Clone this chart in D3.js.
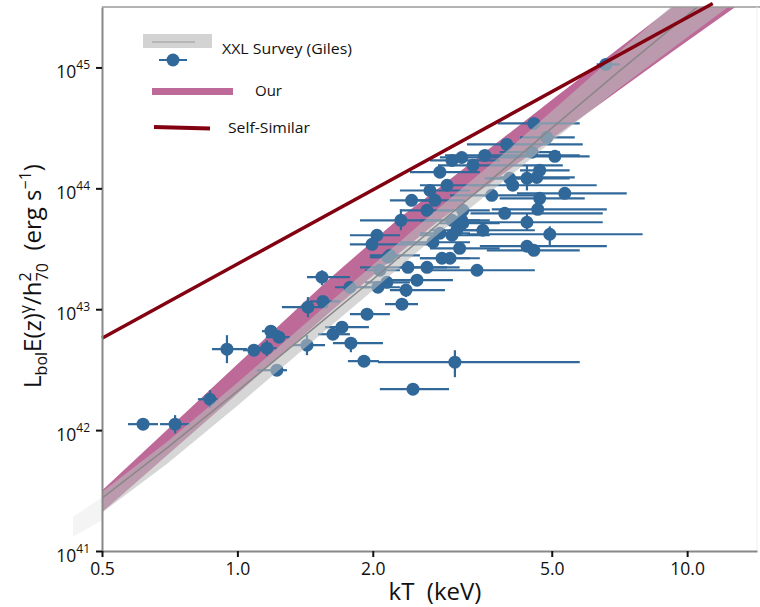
<!DOCTYPE html>
<html>
<head>
<meta charset="utf-8"/>
<script src="https://d3js.org/d3.v7.min.js"></script>
<style>
body { margin: 0; background: #fff; font-family: "Open Sans", "Liberation Sans", sans-serif; }
</style>
</head>
<body>
<div id="v"></div>
<script>
// clusters: temperature (keV) with error range, luminosity (erg/s), optional vertical error
var kT    = [0.617, 0.727, 0.869, 0.948, 1.088, 1.163, 1.187, 1.237, 1.224, 1.428, 1.435, 1.55, 1.708, 1.631, 1.788, 1.912, 1.942, 2.322, 2.371, 3.045, 2.457,
             1.542, 1.779, 2.053, 2.15, 2.043, 1.992, 2.31, 2.183, 2.395, 2.64, 2.508, 2.85, 2.97, 3.12, 3.41, 2.722, 3.0, 3.075, 3.171, 2.75, 2.64,
             4.562, 3.97, 3.55, 5.08, 3.341, 4.7, 4.404, 4.631, 4.096, 5.345, 4.7, 3.678, 4.654, 3.93, 4.404, 3.514, 4.95, 4.404, 4.562, 6.594, 3.154,
             4.875, 4.516, 4.03, 3.171, 3.0, 2.82, 2.161, 2.074, 3.0, 3.154, 2.82, 2.925, 2.68, 2.44];
var kTlo  = [0.571, 0.673, 0.817, 0.878, 1.029, 1.083, 1.134, 1.157, 1.105, 1.329, 1.256, 1.45, 1.566, 1.511, 1.631, 1.761, 1.779, 2.129, 2.183, 2.053, 2.074,
             1.428, 1.648, 1.873, 1.922, 1.779, 1.779, 1.873, 1.971, 1.873, 2.298, 2.15, 2.546, 2.546, 2.68, 2.68, 2.298, 2.546, 2.68, 2.82, 2.419, 2.298,
             3.792, 3.239, 2.895, 4.184, 2.792, 4.25, 3.64, 3.83, 3.29, 4.184, 3.83, 2.97, 3.678, 3.3, 3.075, 3.075, 3.239, 3.46, 3.586, 6.294, 2.82,
             4.25, 3.83, 3.55, 2.82, 2.546, 2.546, 1.971, 1.922, 2.68, 2.82, 2.419, 2.546, 2.298, 2.183];
var kThi  = [0.666, 0.784, 0.906, 1.05, 1.134, 1.224, 1.243, 1.309, 1.289, 1.566, 1.59, 1.69, 1.961, 1.779, 2.107, 2.064, 2.183, 2.521, 2.895, 5.77, 2.955,
             1.779, 1.971, 2.298, 2.419, 2.298, 2.68, 2.82, 2.546, 2.925, 3.12, 3.015, 3.29, 3.46, 3.83, 4.585, 3.29, 3.64, 3.64, 3.83, 3.205, 2.97,
             5.77, 5.86, 5.77, 6.07, 5.29, 5.48, 5.48, 5.625, 6.294, 7.339, 5.92, 4.585, 6.628, 6.492, 6.492, 4.585, 7.963, 6.628, 5.77, 7.08, 3.64,
             5.625, 5.21, 4.585, 3.64, 3.46, 3.29, 2.298, 2.298, 3.83, 4.25, 3.46, 3.64, 3.29, 2.82];
var lum   = [1.12e42, 1.12e42, 1.8e42, 4.67e42, 4.58e42, 4.76e42, 6.58e42, 5.87e42, 3.13e42, 5.04e42, 1.04e43, 1.16e43, 7.1e42, 6.21e42, 5.24e42, 3.72e42, 9.1e42, 1.1e43, 1.44e43, 3.65e42, 2.18e42,
             1.84e43, 1.52e43, 1.52e43, 1.67e43, 4.09e43, 3.44e43, 5.44e43, 2.79e43, 2.22e43, 2.22e43, 1.74e43, 2.64e43, 2.64e43, 3.19e43, 2.1e43, 3.58e43, 4.09e43, 4.5e43, 5.14e43, 7.96e43, 6.58e43,
             3.44e44, 2.31e44, 1.87e44, 1.84e44, 1.55e44, 1.41e44, 1.21e44, 1.23e44, 1.06e44, 9.1e43, 8.27e43, 8.75e43, 6.7e43, 6.21e43, 5.24e43, 4.5e43, 4.17e43, 3.32e43, 3.07e43, 1.06e45, 5.44e43,
             2.64e44, 1.99e44, 1.21e44, 6.58e43, 5.44e43, 4.25e43, 2.69e43, 2.1e43, 1.7e44, 1.8e44, 1.36e44, 1.06e44, 9.6e43, 7.96e43];
var lumLo = [null, 9.4e41, 1.52e42, 3.58e42, null, 4.09e42, null, null, null, 4.17e42, 8.59e42, null, null, null, 4.41e42, null, null, null, 1.26e43, 2.74e42, null,
             1.58e43, null, null, null, null, null, 4.5e43, null, null, null, null, null, null, null, null, null, null, null, null, null, null,
             null, null, null, null, null, null, 9.6e43, null, null, null, null, null, null, null, 4.5e43, null, 3.38e43, null, null, null, null,
             null, null, null, null, null, null, null, null, null, null, null, null, null, null];
var lumHi = [null, 1.33e42, 2.14e42, 6.1e42, null, 5.54e42, null, null, null, 6.1e42, 1.26e43, null, null, null, 5.87e42, null, null, null, 1.61e43, 4.58e42, null,
             2.1e43, null, null, null, null, null, 6.7e43, null, null, null, null, null, null, null, null, null, null, null, null, null, null,
             null, null, null, null, null, null, 1.55e44, null, null, null, null, null, null, null, 6.21e43, null, 4.85e43, null, null, null, null,
             null, null, null, null, null, null, null, null, null, null, null, null, null, null];

// XXL (Giles) relation and its band
var gilesT   = [0.5, 0.7, 1.0, 1.5, 2.0, 2.8, 4.0, 5.0, 7.0, 10.5, 13.0];
var gilesMid = [2.74e41, 7.19e41, 2.10e42, 7.29e42, 1.76e43, 5.07e43, 1.55e44, 3.15e44, 9.06e44, 3.14e45, 6.05e45];
var gilesLo  = [2.08e41, 5.33e41, 1.59e42, 5.79e42, 1.43e43, 4.22e43, 1.23e44, 2.44e44, 6.56e44, 2.03e45, 3.65e45];
var gilesHi  = [3.08e41, 8.07e41, 2.47e42, 9.18e42, 2.32e43, 6.84e43, 2.09e44, 4.35e44, 1.31e45, 4.86e45, 1.0e46];

// faint sliver just left of the y axis
var faintT  = [0.431, 0.5];
var faintLo = [1.31e41, 1.80e41];
var faintHi = [1.91e41, 2.79e41];

// our relation band
var ourT  = [0.5, 1.0, 1.6, 2.3, 2.8, 5.0, 9.2, 12.8];
var ourLo = [2.09e41, 2.0e42, 9.33e42, 2.95e43, 5.37e43, 2.57e44, 1.32e45, 3.16e45];
var ourHi = [3.16e41, 3.51e42, 1.78e43, 5.75e43, 1.0e44, 5.37e44, 3.09e45, 8.13e45];

// self-similar
var selfT = [0.5, 11.4];
var selfL = [5.75e42, 3.38e45];

var xTicks = [0.5, 1, 2, 5, 10];
var yTicks = [1e41, 1e42, 1e43, 1e44, 1e45];
var legendLabels = ["XXL Survey (Giles)", "Our", "Self-Similar"];

var pink = "#be6a98", blue = "#31689a", darkRed = "#820010";
var width = 760, height = 607;

var svg = d3.select("#v").append("svg")
  .attr("width", width)
  .attr("height", height);

var x = d3.scaleLog().domain([0.5, 14.3]).range([102, 757]);
var y = d3.scaleLog().domain([1e41, Math.pow(10, 45.5)]).range([551, 7]);

var defs = svg.append("defs");
defs.append("clipPath").attr("id", "plot").append("rect")
  .attr("x", 102).attr("y", 7).attr("width", 655).attr("height", 544);

var band = d3.area()
  .x(function(d) { return x(d.t); })
  .y0(function(d) { return y(d.lo); })
  .y1(function(d) { return y(d.hi); });
var line = d3.line()
  .x(function(d) { return x(d.t); })
  .y(function(d) { return y(d.l); });

var giles = gilesT.map(function(t, i) { return {t: t, lo: gilesLo[i], hi: gilesHi[i], l: gilesMid[i]}; });
var ours = ourT.map(function(t, i) { return {t: t, lo: ourLo[i], hi: ourHi[i]}; });
var faint = faintT.map(function(t, i) { return {t: t, lo: faintLo[i], hi: faintHi[i]}; });
var clusters = kT.map(function(t, i) {
  return {t: t, tlo: kTlo[i], thi: kThi[i], l: lum[i], llo: lumLo[i], lhi: lumHi[i]};
});

svg.append("path").datum(faint)
  .attr("d", band)
  .attr("fill", "#f4f4f4");

var g = svg.append("g").attr("clip-path", "url(#plot)");

g.append("path").datum(ours)
  .attr("d", band)
  .attr("fill", pink);

var pts = g.selectAll(".cl")
  .data(clusters).enter()
  .append("g").attr("class", "cl");
pts.append("line")
  .attr("x1", function(d) { return x(d.tlo); })
  .attr("x2", function(d) { return x(d.thi); })
  .attr("y1", function(d) { return y(d.l); })
  .attr("y2", function(d) { return y(d.l); })
  .attr("stroke", blue).attr("stroke-width", 2.2);
pts.filter(function(d) { return d.llo != null; }).append("line")
  .attr("x1", function(d) { return x(d.t); })
  .attr("x2", function(d) { return x(d.t); })
  .attr("y1", function(d) { return y(d.llo); })
  .attr("y2", function(d) { return y(d.lhi); })
  .attr("stroke", blue).attr("stroke-width", 2.2);
pts.append("circle")
  .attr("cx", function(d) { return x(d.t); })
  .attr("cy", function(d) { return y(d.l); })
  .attr("r", 6.5)
  .attr("fill", blue);

g.append("path").datum(giles)
  .attr("d", band)
  .attr("fill", "#bbbbbb")
  .attr("fill-opacity", 0.6);
g.append("path").datum(giles)
  .attr("d", line)
  .attr("fill", "none")
  .attr("stroke", "#888")
  .attr("stroke-width", 1.5);

// frame
svg.append("line").attr("x1", 102).attr("x2", 760).attr("y1", 7).attr("y2", 7)
  .attr("stroke", "#999").attr("stroke-width", 1.5);
svg.append("line").attr("x1", 757).attr("x2", 757).attr("y1", 7).attr("y2", 551)
  .attr("stroke", "#eeeeee").attr("stroke-width", 1);

svg.append("path").datum(selfT.map(function(t, i) { return {t: t, l: selfL[i]}; }))
  .attr("d", line)
  .attr("fill", "none")
  .attr("stroke", darkRed)
  .attr("stroke-width", 3.5);

// axes
var yAxis = svg.append("g")
  .attr("transform", "translate(102,0)")
  .call(d3.axisLeft(y).tickValues(yTicks).tickSize(6).tickSizeOuter(0).tickPadding(6));
var xAxis = svg.append("g")
  .attr("transform", "translate(0,551)")
  .call(d3.axisBottom(x).tickValues(xTicks).tickFormat(d3.format(".1f")).tickSize(6).tickSizeOuter(0).tickPadding(6));

[xAxis, yAxis].forEach(function(a) {
  a.select(".domain").attr("stroke", "#888").attr("stroke-width", 2);
  a.selectAll(".tick line").attr("stroke", "#111").attr("stroke-width", 2);
  a.selectAll(".tick text")
    .attr("font-family", "'Open Sans', sans-serif")
    .attr("font-size", 17.5)
    .attr("fill", "#111");
});

yAxis.selectAll(".tick text").each(function(d) {
  var t = d3.select(this).text(null).attr("dy", "0.6em");
  t.append("tspan").text("10");
  t.append("tspan").attr("dy", "-0.75em").attr("font-size", 12)
    .text(Math.round(Math.log10(d)));
});

svg.append("text")
  .attr("x", 435).attr("y", 600)
  .attr("text-anchor", "middle")
  .attr("font-size", 24)
  .attr("fill", "#111")
  .text("kT\u00a0\u00a0(keV)");

var ylab = svg.append("text")
  .attr("transform", "translate(41,276) rotate(-90)")
  .attr("text-anchor", "middle")
  .attr("font-size", 24)
  .attr("fill", "#111");
ylab.append("tspan").text("L");
ylab.append("tspan").attr("font-size", 16).attr("dy", 6).text("bol");
ylab.append("tspan").attr("dy", -6).text("E(z)");
ylab.append("tspan").attr("font-size", 16).attr("dy", -10).text("γ");
ylab.append("tspan").attr("dy", 10).text("/h");
ylab.append("tspan").attr("font-size", 16).attr("dy", -10).text("2");
ylab.append("tspan").attr("font-size", 16).attr("dx", -9).attr("dy", 17).text("70");
ylab.append("tspan").attr("dy", -7).text("\u00a0\u00a0(erg s");
ylab.append("tspan").attr("font-size", 16).attr("dy", -10).text("−1");
ylab.append("tspan").attr("dy", 10).text(")");

// legend
var leg = svg.append("g");
leg.append("rect").attr("x", 143).attr("y", 34).attr("width", 69).attr("height", 14).attr("fill", "#d3d3d3");
leg.append("line").attr("x1", 152).attr("x2", 195).attr("y1", 42).attr("y2", 42).attr("stroke", "#999").attr("stroke-width", 1);
leg.append("line").attr("x1", 159).attr("x2", 187).attr("y1", 60).attr("y2", 60).attr("stroke", blue).attr("stroke-width", 2);
leg.append("circle").attr("cx", 173).attr("cy", 60).attr("r", 6.5).attr("fill", blue);
leg.append("rect").attr("x", 152).attr("y", 88).attr("width", 81).attr("height", 7).attr("fill", pink);
leg.append("line").attr("x1", 154).attr("x2", 210).attr("y1", 127).attr("y2", 128.5).attr("stroke", darkRed).attr("stroke-width", 4);

var legPos = [[222, 54, 130], [255, 96, 27], [228, 133, 82]];
leg.selectAll(".lt").data(legendLabels).enter()
  .append("text").attr("class", "lt")
  .attr("x", function(d, i) { return legPos[i][0]; })
  .attr("y", function(d, i) { return legPos[i][1]; })
  .attr("textLength", function(d, i) { return legPos[i][2]; })
  .attr("lengthAdjust", "spacingAndGlyphs")
  .attr("font-size", 15)
  .attr("fill", "#111")
  .text(function(d) { return d; });
</script>
</body>
</html>
